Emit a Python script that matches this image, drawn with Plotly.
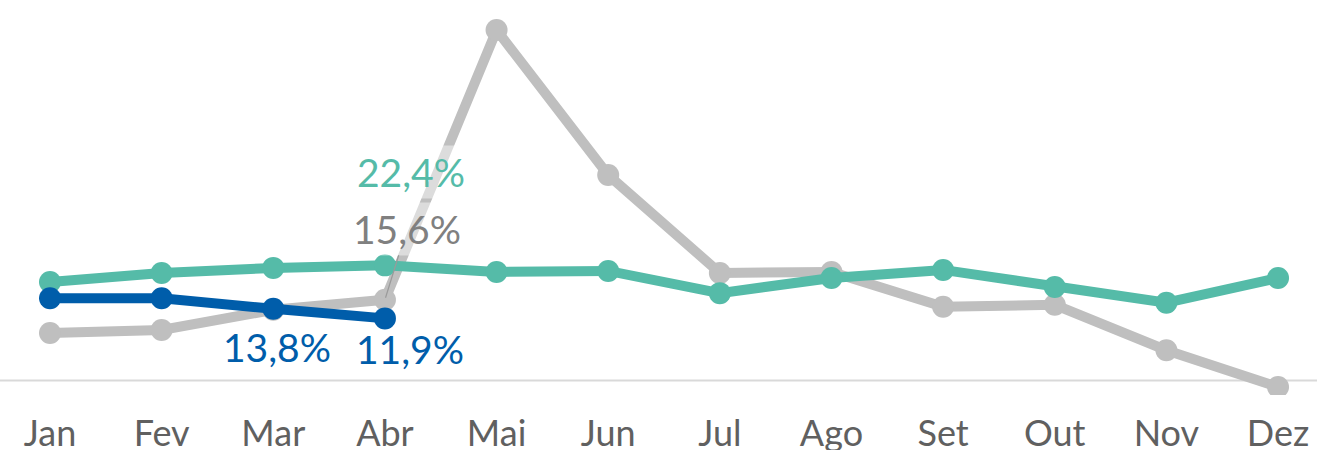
import plotly.graph_objects as go

months = ["Jan", "Fev", "Mar", "Abr", "Mai", "Jun", "Jul", "Ago", "Set", "Out", "Nov", "Dez"]
gray_vals = [9.0, 9.6, 13.6, 15.6, 69.0, 40.3, 20.9, 21.1, 14.2, 14.6, 5.6, -1.7]
teal_vals = [19.1, 20.9, 21.9, 22.4, 21.1, 21.3, 16.9, 19.9, 21.5, 18.1, 15.0, 19.9]
blue_vals = [15.9, 15.9, 13.8, 11.9]

GRAY = "#BFBFBF"
TEAL = "#55BBA8"
BLUE = "#005DAA"
FONT = "Lato"

fig = go.Figure()
for vals, col in [(gray_vals, GRAY), (teal_vals, TEAL), (blue_vals, BLUE)]:
    fig.add_trace(go.Scatter(
        x=months[:len(vals)], y=vals, mode="lines+markers",
        line=dict(color=col, width=10), marker=dict(color=col, size=22),
        hoverinfo="skip", showlegend=False))

def fmt(v):
    return f"{v:.1f}".replace(".", ",") + "%"

# teal label (semi-transparent box)
fig.add_annotation(x=months[3], y=teal_vals[3], text=fmt(teal_vals[3]), showarrow=False,
                   xshift=26, yshift=93, bgcolor="rgba(255,255,255,0.45)", borderpad=3,
                   font=dict(family=FONT, size=39, color=TEAL))
# gray label with thin leader line
fig.add_annotation(x=months[3], y=gray_vals[3], text=fmt(gray_vals[3]), showarrow=True,
                   arrowhead=0, arrowwidth=1.2, arrowcolor="#9A9A9A", ax=22, ay=-71,
                   standoff=2, bgcolor="rgba(255,255,255,0.45)", borderpad=3,
                   font=dict(family=FONT, size=39, color="#808080"))
# blue labels
fig.add_annotation(x=months[2], y=blue_vals[2], text=fmt(blue_vals[2]), showarrow=False,
                   xshift=4, yshift=-38, font=dict(family=FONT, size=39, color=BLUE))
fig.add_annotation(x=months[3], y=blue_vals[3], text=fmt(blue_vals[3]), showarrow=False,
                   xshift=25, yshift=-31, font=dict(family=FONT, size=39, color=BLUE))

fig.add_shape(type="line", xref="paper", x0=0, x1=1, yref="y", y0=-0.4, y1=-0.4,
              line=dict(color="#D9D9D9", width=2), layer="below")

fig.update_layout(
    width=1317, height=450,
    margin=dict(l=0, r=0, t=0, b=55),
    paper_bgcolor="white", plot_bgcolor="white",
    xaxis=dict(range=[-0.448, 11.349], showgrid=False, zeroline=False, showline=False,
               automargin=False, ticks="",
               tickfont=dict(family=FONT, size=36, color="#606060"),
               ticklabelstandoff=14),
    yaxis=dict(range=[-3.27, 74.95], visible=False, showgrid=False, zeroline=False,
               automargin=False),
)
fig.write_html("out.html", config={"displayModeBar": False},
               post_script="document.body.style.margin='0px';")
